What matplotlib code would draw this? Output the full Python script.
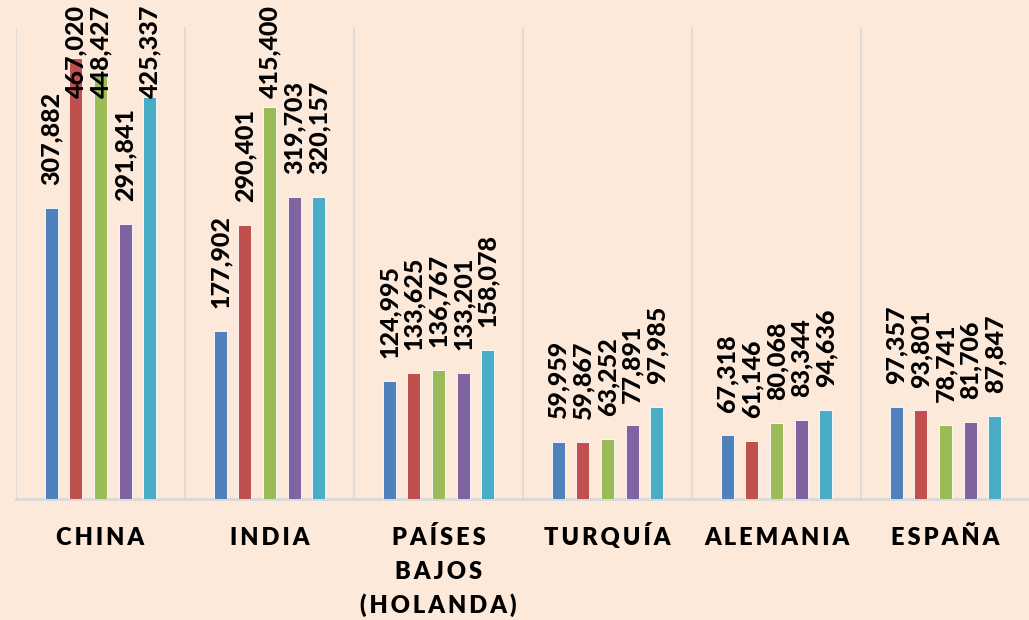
import matplotlib
matplotlib.use("Agg")
import matplotlib.pyplot as plt
import matplotlib.transforms as mtransforms
import numpy as np

plt.rcParams['font.family'] = ['Lato', 'DejaVu Sans']

# Data
paises = ["CHINA", "INDIA", "PAÍSES\nBAJOS\n(HOLANDA)", "TURQUÍA", "ALEMANIA", "ESPAÑA"]
serie_1 = [307882, 177902, 124995, 59959, 67318, 97357]
serie_2 = [467020, 290401, 133625, 59867, 61146, 93801]
serie_3 = [448427, 415400, 136767, 63252, 80068, 78741]
serie_4 = [291841, 319703, 133201, 77891, 83344, 81706]
serie_5 = [425337, 320157, 158078, 97985, 94636, 87847]

series = [serie_1, serie_2, serie_3, serie_4, serie_5]
colores = ['#4F81BD', '#C0504D', '#9BBB59', '#8064A2', '#4BACC6']
fondo = '#FDE9D9'

dpi = 100
fig = plt.figure(figsize=(10.29, 6.2), dpi=dpi, facecolor=fondo)
ax = fig.add_axes([16 / 1029, 121 / 620, 1014 / 1029, 472 / 620])
ax.set_facecolor(fondo)

x = np.arange(len(paises))
paso = 0.146
ancho = 0.077

textos = []
for i, (vals, col) in enumerate(zip(series, colores)):
    pos = x + (i - 2) * paso
    ax.bar(pos, vals, width=ancho, color=col, edgecolor='white', linewidth=0.6, zorder=3)
    for px, v in zip(pos, vals):
        t = ax.annotate(f'{v:,}', xy=(px, v), xytext=(0, 16.5), textcoords='offset points',
                        rotation=90, ha='center', va='bottom', fontsize=18, fontweight='black',
                        color='black', annotation_clip=False, zorder=4)
        textos.append(t)

ax.set_xlim(-0.5, 5.5)
ax.set_ylim(0, 500000)

# vertical separators between categories
for b in np.arange(-0.5, 6.0, 1.0):
    ax.axvline(b, color='#D9D9D9', linewidth=1.2, zorder=1)
ax.axhline(0, color='#D9D9D9', linewidth=2, zorder=2, clip_on=False)

for s in ax.spines.values():
    s.set_visible(False)
ax.set_yticks([])
ax.set_xticks([])

# category labels, letter-spaced, one text per line
trans = mtransforms.blended_transform_factory(ax.transData, fig.transFigure)
for xi, nombre in zip(x, paises):
    for k, linea in enumerate(nombre.split('\n')):
        y_base = (620 - 545 - 34 * k) / 620
        ax.text(xi, y_base, '\u2009'.join(linea), transform=trans, ha='center',
                va='baseline', fontsize=17, fontweight='heavy', color='black')

# keep labels inside the figure, like the original
fig.canvas.draw()
renderer = fig.canvas.get_renderer()
H = fig.bbox.height
for t in textos:
    bb = t.get_window_extent(renderer)
    exceso = bb.y1 - (H - 5)
    if exceso > 0:
        ox, oy = t.xyann
        t.xyann = (ox, oy - exceso * 72 / dpi)

fig.savefig('out.png', dpi=dpi, facecolor=fondo)
